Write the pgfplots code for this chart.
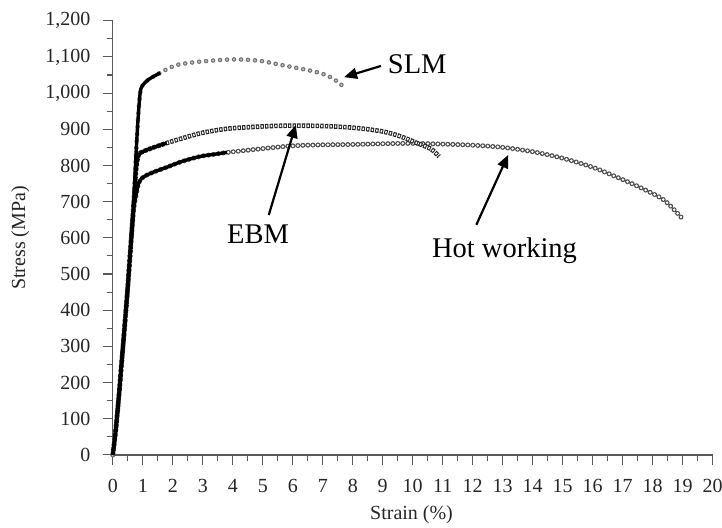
\documentclass[border=0pt]{standalone}
\usepackage{pgfplots}
\pgfplotsset{compat=1.18}
\usepackage{pgfplotstable}
\usepackage{fontspec}
\setmainfont{Liberation Serif}
\usetikzlibrary{arrows.meta}

\pgfplotstableread{
x y
0 0
0.1 70
0.2 160
0.3 260
0.4 360
0.5 465
0.6 580
0.7 700
0.75 790
0.8 870
0.86 950
0.92 1005
1.0 1022
1.2 1038
1.58 1056
1.8 1066
2.15 1078
2.6 1084
2.92 1087
3.5 1091
4.0 1093
4.5 1092
5.0 1088
5.6 1078
6.1 1070
6.7 1060
7.1 1050
7.4 1037
7.66 1020
}\slm

\pgfplotstableread{
x y
0 0
0.1 70
0.2 160
0.3 260
0.4 360
0.5 465
0.6 580
0.7 700
0.78 790
0.86 829
1.0 838
1.3 848
1.8 862
2.4 877
2.92 889
3.5 898
4.0 903
4.6 906
5.3 909
6.0 910
7.0 909
7.9 905
8.5 900
9.05 893
9.5 883
9.85 872
10.2 860
10.6 846
10.88 825
}\ebm

\pgfplotstableread{
x y
0 0
0.1 70
0.2 160
0.3 260
0.4 360
0.5 465
0.6 580
0.7 680
0.78 720
0.86 750
0.95 763
1.1 772
1.4 783
1.8 795
2.3 811
2.92 825
3.4 831
3.81 836
4.6 843
5.4 850
6.15 855
7.0 857
8.0 858
9.0 860
10.0 861
11.0 859
12.0 856
13.0 850
14.0 838
15.0 820
16.0 795
16.74 770
17.3 750
17.86 728
18.4 703
18.97 655
}\hot

\begin{document}
\begin{tikzpicture}
\begin{axis}[
  scale only axis,
  width=600pt, height=434.3pt,
  xmin=0, xmax=20, ymin=0, ymax=1200,
  clip=false,
  axis x line=bottom, axis y line=left,
  axis line style={-, draw=black!65, line width=1.3pt},
  xtick={0,1,...,20}, ytick={0,100,...,1200},
  minor x tick num=1, minor y tick num=1,
  tick align=outside,
  major tick length=10pt, minor tick length=6pt,
  tick style={draw=black!65, line width=1.1pt},
  /pgf/number format/assume math mode=true,
  /pgf/number format/1000 sep={,},
  tick label style={font=\fontsize{20}{20}\selectfont, text=black!85},
  xticklabel style={yshift=-11pt},
  yticklabel style={xshift=-9pt},
  xlabel={Strain (\%)}, ylabel={Stress (MPa)},
  label style={font=\fontsize{20}{20}\selectfont, text=black!85},
  xlabel style={at={(axis description cs:0.498,-0.1497)}, anchor=base},
  ylabel style={at={(axis description cs:-0.146,0.5)}, anchor=base},
]
% hollow circles (hot working)
\addplot[black!70, smooth, line width=5pt, line cap=round, dash pattern=on 0pt off 5pt] table {\hot};
\addplot[white, smooth, line width=2.8pt, line cap=round, dash pattern=on 0pt off 5pt] table {\hot};
% hollow squares (EBM)
\addplot[black!85, smooth, line width=4.6pt, line cap=butt, dash pattern=on 3.4pt off 1.2pt] table {\ebm};
\addplot[white, smooth, line width=2.2pt, line cap=butt, dash pattern=on 1.4pt off 3.2pt, dash phase=3.6pt] table {\ebm};
% grey dots (SLM)
\addplot[black!55, smooth, line width=4.6pt, line cap=round, dash pattern=on 0pt off 7pt] table {\slm};
\addplot[black!25, smooth, line width=2.4pt, line cap=round, dash pattern=on 0pt off 7pt] table {\slm};
% dense early parts
\addplot[black, line width=3.4pt, smooth, restrict x to domain=0:1.6] table {\slm};
\addplot[black, line width=3.4pt, smooth, restrict x to domain=0:2.2] table {\ebm};
\addplot[black, line width=3.4pt, smooth, restrict x to domain=0:3.85] table {\hot};
% annotations
\draw[black, line width=2.2pt, -{Triangle[length=13pt, width=11pt]}] (axis cs:8.94,1075) -- (axis cs:7.71,1044);
\draw[black, line width=2.2pt, -{Triangle[length=13pt, width=11pt]}] (axis cs:5.20,663) -- (axis cs:6.10,912);
\draw[black, line width=2.2pt, -{Triangle[length=13pt, width=11pt]}] (axis cs:12.12,636) -- (axis cs:13.18,829);
\node[font=\fontsize{28.5}{28.5}\selectfont, anchor=center] at (axis cs:10.15,1080) {SLM};
\node[font=\fontsize{28.5}{28.5}\selectfont, anchor=center] at (axis cs:4.84,611) {EBM};
\node[font=\fontsize{28.5}{28.5}\selectfont, anchor=base] at (axis cs:13.06,545) {Hot working};
\coordinate (bl) at (axis description cs:-0.188,-0.166);
\coordinate (tr) at (axis description cs:1.0155,1.0477);
\end{axis}
\pgfresetboundingbox
\path (bl) rectangle (tr);
\end{tikzpicture}
\end{document}
